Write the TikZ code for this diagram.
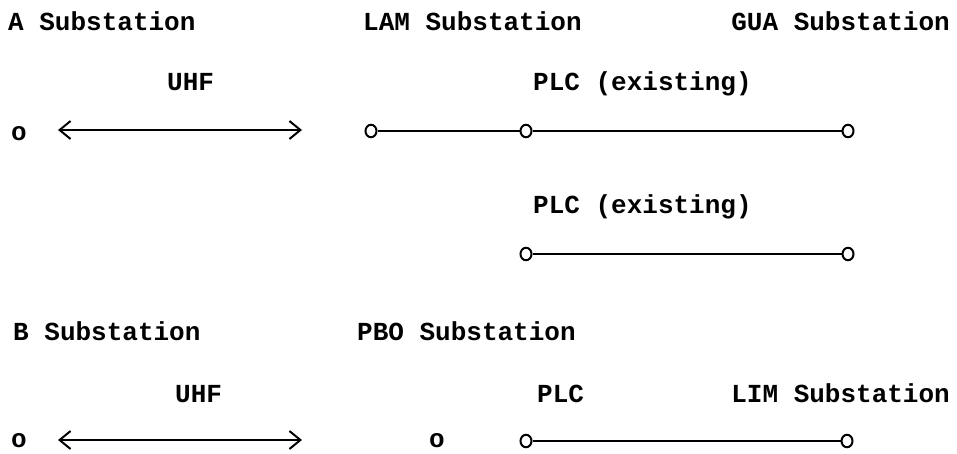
\documentclass[tikz,border=0pt]{standalone}
\usepackage{fontspec}
\setmonofont{Liberation Mono}
\usetikzlibrary{arrows.meta,shapes.geometric}
\begin{document}
\begin{tikzpicture}[x=1pt,y=-1pt,
  lbl/.style={anchor=base west, inner sep=0pt, font=\ttfamily\bfseries\fontsize{26}{26}\selectfont},
  lblr/.style={lbl, anchor=base east},
  term/.style={draw, ellipse, line width=2pt, minimum width=11pt, minimum height=12.5pt, inner sep=0pt},
  link/.style={line width=2.3pt},
  uhfarrow/.style={line width=1.8pt, {Straight Barb[length=11pt,width=18pt,line width=2pt]}-{Straight Barb[length=11pt,width=18pt,line width=2pt]}}
]
\useasboundingbox (0,0) rectangle (957,453);
% row 1
\node[lbl] (A) at (8,30) {A Substation};
\node[lbl] (LAM) at (363,30) {LAM Substation};
\node[lblr] (GUA) at (950,30) {GUA Substation};
% row 2
\node[lbl] (uhf1) at (167,90) {UHF};
\node[lbl] (plc1) at (533,90) {PLC (existing)};
% row 3
\node[lbl] (oA) at (11,140) {o};
\coordinate (a1) at (58,130);
\coordinate (a2) at (302,130);
\draw[uhfarrow] (a1) -- (a2);
\node[term] (lam) at (371,131) {};
\node[term] (lam2) at (526,131) {};
\node[term] (gua) at (848,131) {};
\draw[link] (lam) -- (lam2);
\draw[link] (lam2) -- (gua);
% row 4
\node[lbl] (plc2) at (533,213) {PLC (existing)};
\node[term] (c3) at (526,254) {};
\node[term] (c4) at (848,254) {};
\draw[link] (c3) -- (c4);
% row 6
\node[lbl] (B) at (13,340) {B Substation};
\node[lbl] (PBO) at (357,340) {PBO Substation};
% row 7
\node[lbl] (uhf2) at (175,402) {UHF};
\node[lbl] (plc3) at (537,402) {PLC};
\node[lblr] (LIM) at (950,402) {LIM Substation};
% row 8
\node[lbl] (oB) at (11,447) {o};
\coordinate (b1) at (58,440);
\coordinate (b2) at (302,440);
\draw[uhfarrow] (b1) -- (b2);
\node[lbl] (oP) at (429,447) {o};
\node[term] (c5) at (526,441) {};
\node[term] (c6) at (847,441) {};
\draw[link] (c5) -- (c6);
\end{tikzpicture}
\end{document}
